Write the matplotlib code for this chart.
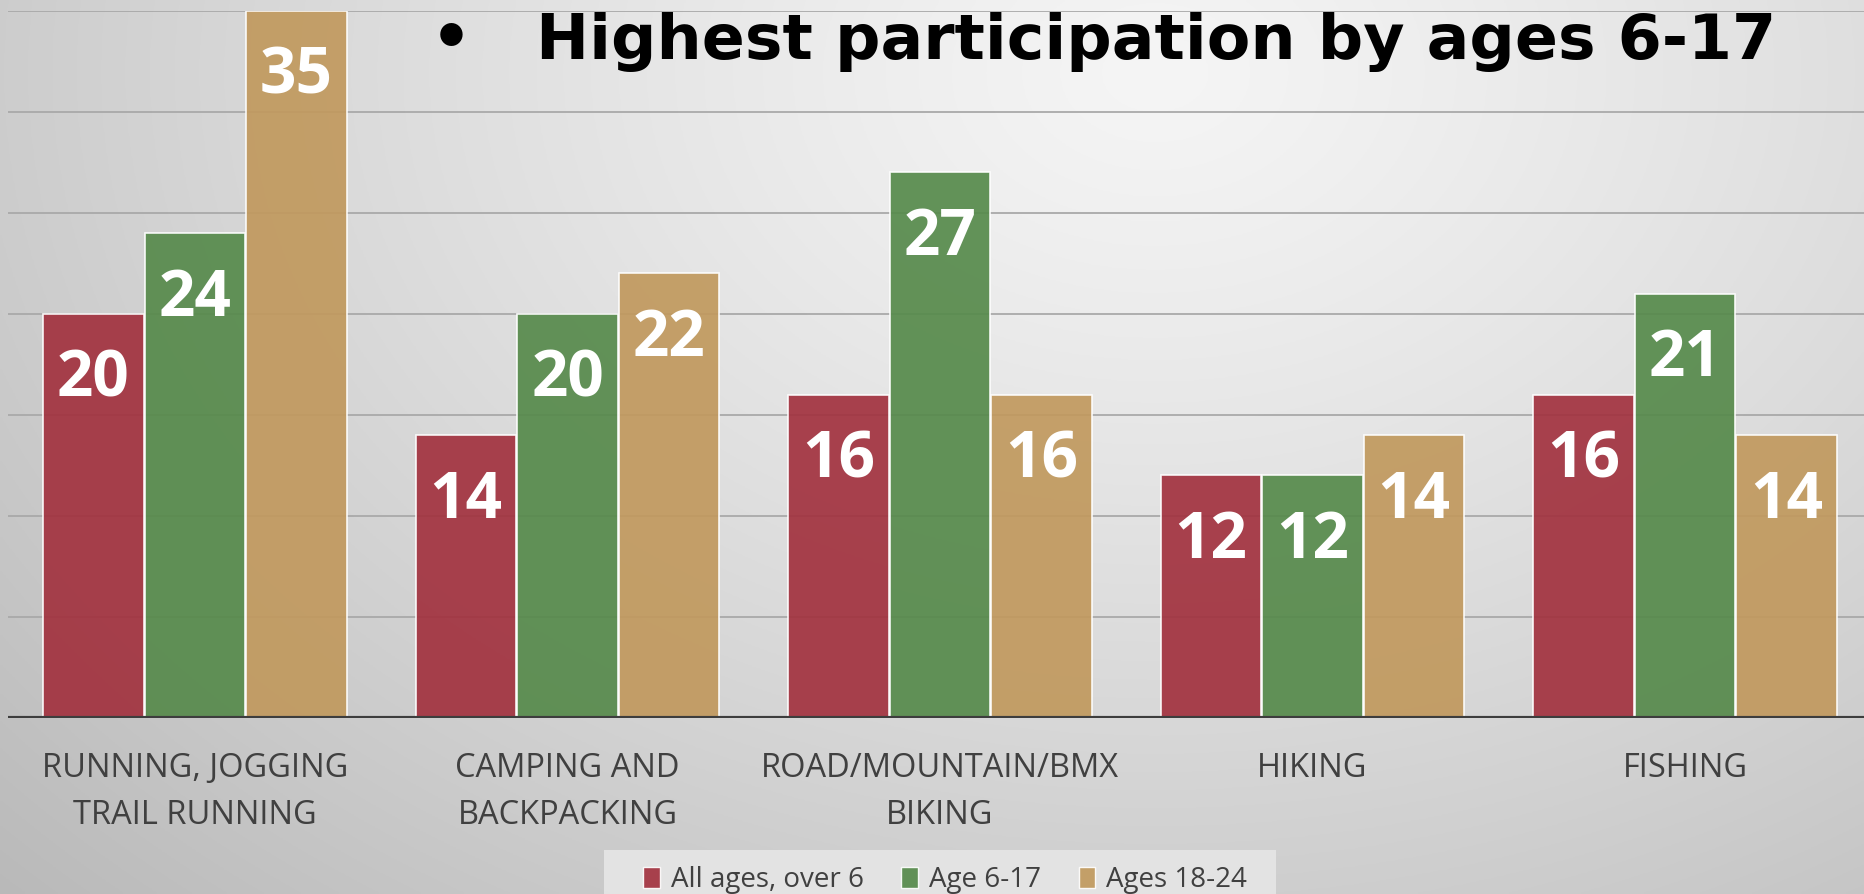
import numpy as np
import matplotlib
matplotlib.use("Agg")
import matplotlib.pyplot as plt
from matplotlib.patches import Patch, Rectangle
from matplotlib import transforms

# ---- data ----
categories = ["RUNNING, JOGGING\nTRAIL RUNNING", "CAMPING AND\nBACKPACKING",
              "ROAD/MOUNTAIN/BMX\nBIKING", "HIKING", "FISHING"]
series_names = ["All ages, over 6", "Age 6-17", "Ages 18-24"]
all_ages = [20, 14, 16, 12, 16]
age_6_17 = [24, 20, 27, 12, 21]
ages_18_24 = [35, 22, 16, 14, 14]
title = "Highest participation by ages 6-17"

colors = ["#a2323f", "#568a4b", "#c1995e"]

W, H = 1864, 894
fig = plt.figure(figsize=(W / 100, H / 100), dpi=100)

# background gradient
bg = fig.add_axes([0, 0, 1, 1], zorder=-10)
yy, xx = np.mgrid[0:1:300j, 0:1:600j]
d = np.sqrt(((xx - 0.62) / 0.72) ** 2 + ((yy - 0.08) / 1.1) ** 2)
val = np.clip(245 - 48 * d ** 1.2, 180, 245) / 255.0
bg.imshow(np.dstack([val, val, val]), aspect="auto", extent=[0, 1, 1, 0])
bg.set_xlim(0, 1)
bg.set_ylim(1, 0)
bg.axis("off")

left_px, right_px = 8, 1864
y0_px, y35_px = 718, 10.7
ax = fig.add_axes([left_px / W, (H - y0_px) / H, (right_px - left_px) / W,
                   (y0_px - y35_px) / H])
ax.set_facecolor("none")

spacing = 372.5
c0 = 195
ax.set_xlim(-(c0 - left_px) / spacing, (right_px - c0) / spacing)
ax.set_ylim(0, 35)

x = np.arange(len(categories))
bw = 0.27
off = 0.2725
series = [all_ages, age_6_17, ages_18_24]
for i, (vals, col) in enumerate(zip(series, colors)):
    ax.bar(x + (i - 1) * off, vals, width=bw, color=col, alpha=0.92,
           edgecolor=(1, 1, 1, 0.3), linewidth=1.2, zorder=3)
    for xi, v in zip(x + (i - 1) * off, vals):
        ax.annotate(str(v), (xi, v), xytext=(0, -59.5), textcoords="offset points",
                    ha="center", va="baseline", color="white", fontsize=46,
                    fontweight="bold", family="Open Sans", zorder=5)

for g in range(5, 36, 5):
    ax.axhline(g, color="#a9a9a9", lw=1.3, zorder=1)
ax.axhline(0, color="#3d3d3d", lw=3.0, zorder=4)

for s in ax.spines.values():
    s.set_visible(False)
ax.set_xticks([])
ax.set_yticks([])

# category labels
line_y = [(H - 777) / H, (H - 824) / H]
trans = transforms.blended_transform_factory(ax.transData, fig.transFigure)
for xi, cat in zip(x, categories):
    for li, line in enumerate(cat.split("\n")):
        fig.text(xi, line_y[li], line, transform=trans, ha="center", va="baseline",
                 fontsize=23.5, color="#404040", family="Open Sans")

# legend box
fig.patches.append(Rectangle((604 / W, 0), (1276 - 604) / W, (H - 850) / H,
                             transform=fig.transFigure, facecolor="#e6e6e6",
                             edgecolor="none", alpha=0.9, zorder=1))
handles = [Patch(facecolor=c, alpha=0.92, edgecolor=(1, 1, 1, 0.5)) for c in colors]
leg = fig.legend(handles, series_names, loc="upper left", ncol=3,
                 bbox_to_anchor=(643 / W, (H - 866) / H), frameon=False,
                 prop={"family": "Open Sans", "size": 20},
                 handlelength=0.6, handleheight=0.8, handletextpad=0.4,
                 columnspacing=1.35, borderpad=0, borderaxespad=0)
leg.set_zorder(2)
for t in leg.get_texts():
    t.set_color("#404040")

# title
fig.text(451 / W, (H - 59) / H, "\u2022", ha="center", va="baseline",
         fontsize=46, fontweight="bold", family="DejaVu Sans", color="black")
fig.text(536 / W, (H - 59) / H, title, ha="left", va="baseline",
         fontsize=45.6, fontweight="bold", family="DejaVu Sans", color="black")

fig.savefig("out.png", dpi=100)
